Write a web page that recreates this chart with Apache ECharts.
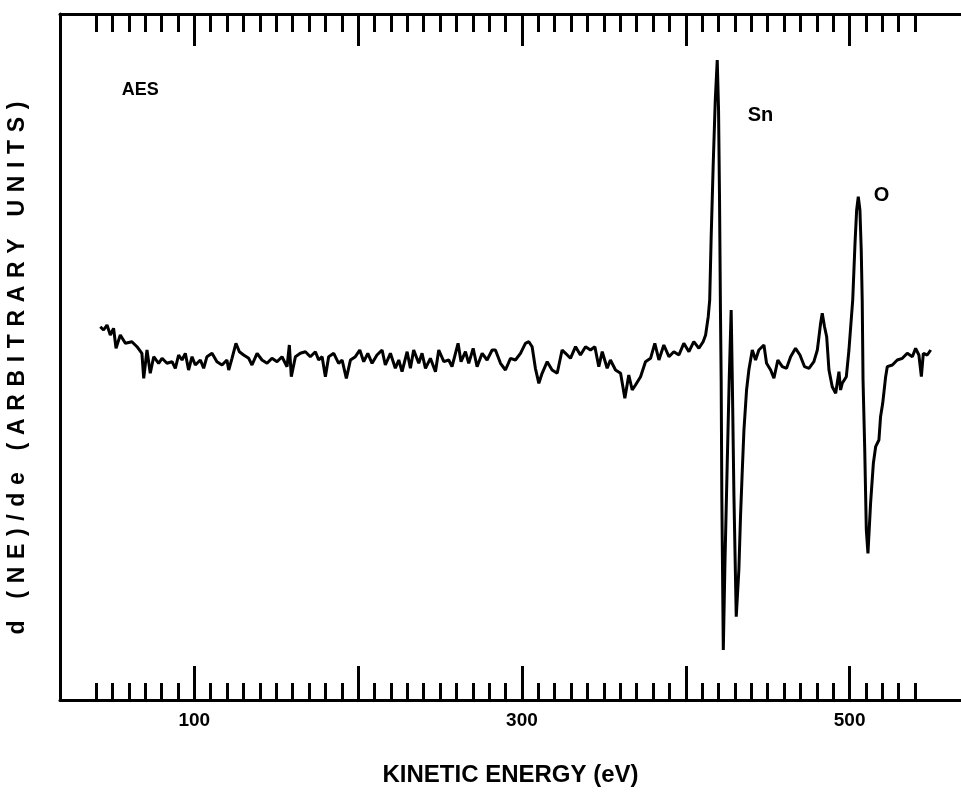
<!DOCTYPE html>
<html>
<head>
<meta charset="utf-8">
<script src="https://cdn.jsdelivr.net/npm/echarts@6/dist/echarts.min.js"></script>
<style>
  html, body { margin: 0; padding: 0; background: #fff; }
  #chart { width: 961px; height: 794px; }
</style>
</head>
<body>
<div id="chart"></div>
<script>
// kinetic energy (eV) and d(NE)/dE in arbitrary units
const energy = [
  42.6, 44.6, 46.7, 48.7, 50.7, 52.2, 54.8, 57.9, 61.9, 65.0, 68.0, 69.1, 71.1, 73.1, 75.2, 78.2,
  80.3, 83.3, 86.4, 88.4, 90.4, 92.5, 94.5, 96.5, 98.6, 100.6, 103.7, 105.7, 107.7, 110.8, 113.8,
  116.9, 119.9, 121.0, 123.0, 125.4, 127.5, 130.1, 133.2, 135.2, 138.3, 141.3, 144.4, 147.4, 150.5,
  153.5, 156.6, 158.0, 159.2, 161.7, 164.7, 167.8, 170.8, 173.9, 175.9, 178.0, 180.0, 182.0, 185.1,
  188.1, 190.2, 192.8, 195.3, 198.3, 201.0, 203.4, 205.9, 208.5, 211.5, 214.6, 216.6, 219.7, 222.7,
  224.8, 226.8, 229.9, 231.9, 233.9, 237.0, 239.0, 241.1, 244.1, 247.2, 249.2, 252.3, 255.3, 257.3,
  259.4, 261.0, 262.8, 265.5, 267.5, 270.2, 272.6, 275.7, 278.7, 281.8, 283.8, 286.9, 289.9, 293.0,
  296.0, 299.1, 302.1, 304.2, 306.2, 308.2, 310.3, 312.3, 315.4, 318.4, 321.5, 324.5,
  326.6, 329.6, 332.7, 335.7, 338.8, 341.8, 344.5, 346.9, 349.0, 352.0, 354.0, 357.1, 360.2, 362.8,
  365.2, 367.3, 369.3, 372.4, 375.4, 378.5, 381.1, 383.6, 386.6, 389.7, 392.7, 395.8, 398.8, 401.9,
  404.9, 408.0, 410.6, 412.1, 413.7, 414.6, 415.5, 416.7, 418.0, 419.2, 420.0, 420.6, 421.2, 421.6,
  422.0, 422.9, 423.9, 425.3, 426.5, 427.7, 428.4, 429.4, 430.8, 432.4, 433.4, 434.5, 435.5, 437.1,
  438.5, 440.6, 442.6, 444.6, 447.7, 449.3, 451.8, 453.8, 456.2, 458.9, 461.5, 464.0, 467.0, 469.7,
  472.5, 475.2, 478.2, 480.3, 481.3, 482.3, 483.3, 484.7, 486.0, 487.4, 489.4, 491.5, 493.5, 494.5,
  495.5, 498.0, 499.6, 501.9, 503.3, 504.3, 505.3, 506.3, 507.1, 507.7, 508.2, 509.2, 510.2, 511.2,
  512.8, 514.5, 515.9, 517.9, 518.9, 520.2, 522.0, 523.0, 526.1, 529.1, 532.2, 535.2, 538.3, 540.3,
  542.3, 543.8, 545.0, 547.4, 549.5
];
const signal = [
  373.3, 370, 375, 365, 371.7, 351.7, 365, 356.7, 358.3, 353.3, 346.7, 321.7, 350, 326.7, 343.3, 336.7,
  341.7, 336.7, 338.3, 331.7, 345, 340, 346.7, 330, 343.3, 335, 340, 331.7, 343.3, 346.7, 338.3,
  335, 340, 330, 341.7, 356.7, 348.3, 345, 341.7, 335, 346.7, 340, 336.7, 341.7, 338.3,
  343.3, 333.3, 355, 323.3, 343.3, 346.7, 348.3, 343.3, 348.3, 340, 343.3, 323.3, 343.3, 346.7,
  336.7, 340, 321.7, 340, 343.3, 350, 338.3, 346.7, 336.7, 345, 350, 335, 346.7, 331.7,
  340, 328.3, 348.3, 331.7, 350, 336.7, 346.7, 331.7, 341.7, 328.3, 350, 338.3, 340, 333.3,
  346.7, 356.7, 338.3, 348.3, 336.7, 351.7, 333.3, 346.7, 340, 350, 350, 336.7, 330, 341.7,
  340, 346.7, 356.7, 358.3, 353.3, 331.7, 316.7, 326.7, 338.3, 330, 326.7, 350,
  346.7, 341.7, 353.3, 345, 353.3, 350, 353.3, 333.3, 348.3, 331.7, 340, 330, 326.7, 301.7,
  325, 310, 315, 323.3, 338.3, 341.7, 356.7, 340, 355, 343.3, 348.3, 345, 356.7, 348.3,
  358.3, 351.7, 358.3, 365, 383.3, 400, 463.3, 533.3, 600, 640, 590, 500, 383.3, 320,
  203.3, 50, 136.7, 236.7, 320, 390, 320, 203.3, 83.3, 130, 183, 230, 270, 310,
  330, 350, 340, 350, 355, 336.7, 330, 321.7, 340, 333.3, 331.7, 343.3, 351.7, 345,
  333.3, 331.7, 338.3, 350, 363.3, 376.7, 386.7, 373.3, 363.3, 330, 313.3, 306.7, 328.3, 310,
  316.7, 323.3, 350, 400, 456.7, 490, 503.3, 490, 450, 400, 320, 253.3, 170, 146.7,
  196.7, 236.7, 253.3, 260, 283.3, 296.7, 323.3, 333.3, 335, 340, 341.7, 346.7, 343.3, 351.7,
  345, 323.3, 346.7, 345, 350
];

// axis ticks (eV)
const minorTicks = [40, 50, 60, 70, 80, 90, 100, 110, 120, 130, 140, 150, 160, 170, 180, 190, 200,
  210, 220, 230, 240, 250, 260, 270, 280, 290, 300, 310, 320, 330, 340, 350, 360, 370, 380, 390, 400,
  410, 420, 430, 440, 450, 460, 470, 480, 490, 500, 510, 520, 530, 540];
const majorTicks = [100, 200, 300, 400, 500];
const tickLabels = [100, 300, 500];

// peak annotations
const noteText = ['AES', 'Sn', 'O'];
const noteEnergy = [67, 445.6, 519.5];
const noteSignal = [610, 585, 505];

const FONT = '"Liberation Sans", Arial, Helvetica, sans-serif';
const INK = '#000';

// the scanned y title is set with wide letter spacing
const yTitle = 'd (NE)/de (ARBITRARY UNITS)';
const yTitleSpaced = yTitle.split('').join('\u2004');

const chart = echarts.init(document.getElementById('chart'), null, { renderer: 'canvas' });

function xAx(pos, ticks, len, withLine) {
  return {
    type: 'value', position: pos, min: 18, max: 568,
    splitLine: { show: false },
    axisLine: { show: withLine, lineStyle: { color: INK, width: 3 } },
    axisTick: { show: true, inside: true, length: len, customValues: ticks,
      lineStyle: { color: INK, width: 3 } },
    axisLabel: { show: false }
  };
}

const bottomAxis = xAx('bottom', minorTicks, 17, true);
bottomAxis.axisLabel = {
  show: true, customValues: tickLabels, margin: 11,
  color: INK, fontFamily: FONT, fontWeight: 'bold', fontSize: 19
};
bottomAxis.name = 'KINETIC ENERGY (eV)';
bottomAxis.nameLocation = 'middle';
bottomAxis.nameGap = 63;
bottomAxis.nameTextStyle = { color: INK, fontFamily: FONT, fontWeight: 'bold', fontSize: 24 };

chart.setOption({
  backgroundColor: '#fff',
  animation: false,
  grid: { left: 60, right: 0, top: 14, bottom: 94, containLabel: false, outerBoundsMode: 'none' },
  xAxis: [
    bottomAxis,
    xAx('bottom', majorTicks, 34, false),
    xAx('top', minorTicks, 18, true),
    xAx('top', majorTicks, 32, false)
  ],
  yAxis: {
    type: 'value', min: 0, max: 686,
    splitLine: { show: false },
    axisLine: { show: true, lineStyle: { color: INK, width: 3 } },
    axisTick: { show: false },
    axisLabel: { show: false },
    name: yTitleSpaced,
    nameLocation: 'middle',
    nameGap: 31,
    nameTextStyle: { color: INK, fontFamily: FONT, fontWeight: 'bold', fontSize: 23,
      padding: [0, 22, 0, 0] }
  },
  series: [
    {
      type: 'line',
      data: energy.map((e, i) => [e, signal[i]]),
      showSymbol: false,
      lineStyle: { color: INK, width: 3 },
      z: 3
    },
    {
      type: 'scatter',
      symbolSize: 0,
      silent: true,
      itemStyle: { opacity: 1, color: INK },
      data: noteText.map((t, i) => ({
        name: t,
        value: [noteEnergy[i], noteSignal[i]],
        label: { fontSize: i === 0 ? 18 : 20, color: INK }
      })),
      label: {
        show: true, position: 'inside', formatter: '{b}',
        color: INK, fontFamily: FONT, fontWeight: 'bold'
      }
    }
  ]
});
</script>
</body>
</html>
